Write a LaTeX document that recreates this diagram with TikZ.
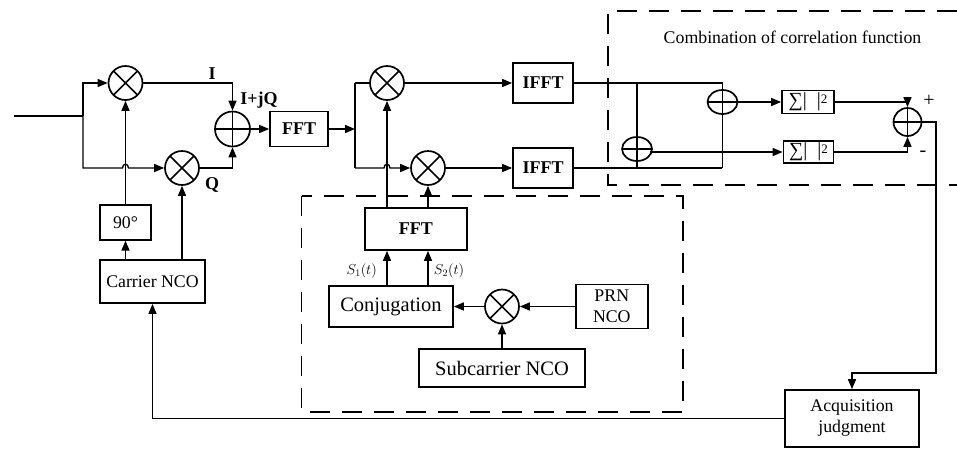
\documentclass[tikz,border=0pt]{standalone}
\usepackage{fontspec}
\setmainfont{Liberation Serif}
\usetikzlibrary{arrows.meta,shapes.geometric}
\begin{document}
\begin{tikzpicture}[x=1pt,y=-1pt,line width=1.4pt,
 arr/.style={-{Triangle[length=10pt,width=8pt]}},
 blk/.style={draw,line width=1.7pt,inner sep=0pt,font=\fontsize{17.8}{21}\selectfont,align=center},
 bblk/.style={blk,font=\fontsize{18}{20}\selectfont\bfseries},
 mix/.style={circle,draw,line width=1.7pt,minimum size=34pt,inner sep=0pt,
   path picture={\draw[line width=1.6pt] (path picture bounding box.north west)--(path picture bounding box.south east) (path picture bounding box.north east)--(path picture bounding box.south west);}},
 add/.style={circle,draw,line width=1.7pt,minimum size=35pt,inner sep=0pt,
   path picture={\draw[line width=1.6pt] (path picture bounding box.north)--(path picture bounding box.south) (path picture bounding box.west)--(path picture bounding box.east);}},
 eadd/.style={ellipse,draw,line width=1.7pt,minimum width=30pt,minimum height=24pt,inner sep=0pt,
   path picture={\draw[line width=1.5pt] (path picture bounding box.west)--(path picture bounding box.east);}},
 sumbox/.style={blk,font=\fontsize{20}{20}\selectfont},
 dbox/.style={line width=1.3pt,dash pattern=on 20pt off 12pt},
 lbl/.style={font=\fontsize{18}{20}\selectfont\bfseries,inner sep=0pt},
 txt/.style={font=\fontsize{17.8}{21}\selectfont,inner sep=0pt},
 slbl/.style={font=\fontsize{14}{16}\selectfont,inner sep=0pt}
]
\useasboundingbox (0,0) rectangle (957,448);

% dashed boxes
\draw[dbox] (957,11) -- (608,11) -- (608,185) -- (957,185);
\draw[dbox] (301.7,196) rectangle (683,412);
\node[txt] (title) at (792.5,37) {Combination of correlation function};

% front end
\coordinate (in) at (14,116);
\coordinate (sp1) at (83,116);
\node[mix] (M1) at (125.5,83) {};
\node[mix] (M2) at (182,168) {};
\node[blk,minimum width=51pt,minimum height=35pt] (ninety) at (125.5,222.3) {90°};
\node[blk,minimum width=105pt,minimum height=43pt] (cnco) at (152.5,281.5) {Carrier NCO};
\node[add] (A1) at (232.5,129) {};
\node[bblk,minimum width=58pt,minimum height=35pt] (fft1) at (299,129) {FFT};

\draw (in) -- (sp1);
\draw[arr] (sp1) |- (M1.west);
\draw[arr] (sp1) -- (83,168) -- (122.5,168) .. controls (122.5,163) and (128.5,163) .. (128.5,168) -- (M2.west);
\draw[arr] (ninety.north) -- (M1.south);
\draw[arr] (ninety.south |- cnco.north) -- (ninety.south);
\draw[arr] (M2.south |- cnco.north) -- (M2.south);
\draw[arr] (M1.east) -| (A1.north);
\draw[arr] (M2.east) -| (A1.south);
\draw[arr] (A1.east) -- (fft1.west);
\node[lbl] (lI) at (212,74) {I};
\node[lbl] (lIjQ) at (259,100) {I+jQ};
\node[lbl] (lQ) at (212,185) {Q};

% correlators
\coordinate (sp2) at (355,129);
\coordinate (sp2t) at (355,83);
\coordinate (sp2b) at (355,168);
\node[mix] (M3) at (387,83) {};
\node[mix] (M4) at (428,168) {};
\node[bblk,minimum width=60pt,minimum height=40pt] (ifft1) at (543,83) {IFFT};
\node[bblk,minimum width=60pt,minimum height=40pt] (ifft2) at (543,168) {IFFT};
\draw[arr] (fft1.east) -- (sp2);
\draw (sp2t) -- (sp2b);
\draw (sp2t) -- (M3.west);
\draw[arr] (sp2b) -- (384,168) .. controls (384,163) and (390,163) .. (390,168) -- (M4.west);
\draw[arr] (M3.east) -- (ifft1.west);
\draw[arr] (M4.east) -- (ifft2.west);

% combination
\coordinate (c1) at (722.3,83);
\coordinate (c2) at (722.3,168);
\coordinate (c3) at (637,83);
\coordinate (c4) at (637,168);
\draw (ifft1.east) -- (c1) -- (c2);
\draw (ifft2.east) -- (c2);
\draw (c3) -- (c4);
\node[eadd] (E1) at (722.5,102) {};
\node[eadd] (E2) at (637,149) {};
\node[sumbox,minimum width=52pt,minimum height=23pt] (S1) at (808,102) {∑|\hspace{10pt}|\raisebox{3pt}{\fontsize{13}{13}\selectfont 2}};
\node[sumbox,minimum width=50pt,minimum height=22pt] (S2) at (808.5,152) {∑|\hspace{10pt}|\raisebox{3pt}{\fontsize{13}{13}\selectfont 2}};
\coordinate (e2o) at (650,152);
\draw[arr] (E1.east) -- (S1.west);
\draw[arr] (e2o) -- (S2.west);
\node[add,minimum size=28pt] (A2) at (907.5,122) {};
\draw[arr] (S1.east) -| (A2.north);
\draw[arr] (S2.east) -| (A2.south);
\node[txt,font=\fontsize{20}{22}\selectfont] (plus) at (929,100.7) {+};
\node[txt,font=\fontsize{20}{22}\selectfont] (minus) at (923,154) {-};

% acquisition
\node[blk,minimum width=134pt,minimum height=57pt] (acq) at (852,418.5) {Acquisition\\judgment};
\coordinate (o1) at (936,122);
\coordinate (o2) at (936,373);
\draw[arr] (A2.east) -- (o1) -- (o2) -| (acq.north);
\draw[arr] (acq.west) -| (cnco.south);

% local code generation
\node[bblk,minimum width=101.7pt,minimum height=42pt] (fft2) at (415.8,229) {FFT};
\node[blk,minimum width=124pt,minimum height=40.7pt,font=\fontsize{20.5}{24}\selectfont] (conj) at (391,306.5) {Conjugation};
\node[mix] (M5) at (502,306.5) {};
\node[blk,minimum width=71.7pt,minimum height=44pt] (prn) at (611.8,306.5) {PRN\\NCO};
\node[blk,minimum width=166pt,minimum height=38pt,font=\fontsize{20.5}{24}\selectfont] (sub) at (502,368) {Subcarrier NCO};
\draw[arr] (fft2.north -| M3) -- (M3.south);
\draw[arr] (fft2.north -| M4) -- (M4.south);
\draw[arr] (conj.north -| M3) -- (fft2.south -| M3);
\draw[arr] (conj.north -| M4) -- (fft2.south -| M4);
\node[slbl] (s1l) at (361.7,270.7) {$S_1(t)$};
\node[slbl] (s2l) at (449,270.7) {$S_2(t)$};
\draw[arr] (M5.west) -- (conj.east);
\draw[arr] (prn.west) -- (M5.east);
\draw[arr] (sub.north) -- (M5.south);
\end{tikzpicture}
\end{document}
